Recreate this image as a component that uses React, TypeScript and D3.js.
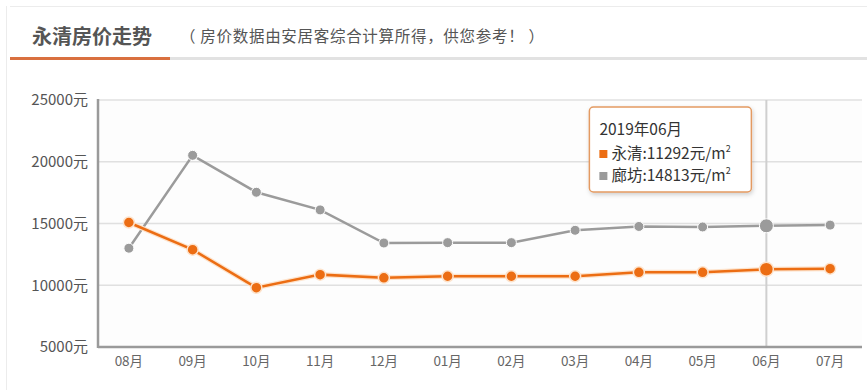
import React from 'react';
import * as d3 from 'd3';

const months = ['08月', '09月', '10月', '11月', '12月', '01月', '02月', '03月', '04月', '05月', '06月', '07月'];
const yongqing = [15080, 12880, 9800, 10860, 10600, 10730, 10730, 10730, 11050, 11050, 11292, 11340];
const langfang = [13000, 20520, 17530, 16100, 13420, 13450, 13450, 14450, 14760, 14720, 14813, 14870];
const yTicks = [5000, 10000, 15000, 20000, 25000];
const activeIndex = 10;
const tooltipTitle = '2019年06月';

const W = 867;
const H = 390;
const ORANGE = '#ec6d13';
const GRAY = '#9b9b9b';
const FONT = '"Noto Sans CJK SC", "Noto Sans", sans-serif';

export default function App() {
  const margin = { left: 98, right: 5, top: 100, bottom: 43 };
  const x = d3.scaleBand<string>().domain(months).range([margin.left - 1, W - margin.right]);
  const y = d3.scaleLinear().domain([5000, 25000]).range([H - margin.bottom, margin.top]);
  const cx = (i: number) => (x(months[i]) || 0) + x.bandwidth() / 2;

  const line = d3.line<number>()
    .x((_, i) => cx(i))
    .y(d => y(d));

  const ax = cx(activeIndex);
  const tipX = ax - 177;
  const tipY = 107;

  return (
    <svg width={W} height={H} style={{ position: 'absolute', left: 0, top: 0, fontFamily: FONT }}>
      <defs>
        <filter id="tipShadow" x="-10%" y="-10%" width="130%" height="140%">
          <feDropShadow dx="1" dy="2" stdDeviation="2" floodColor="#000" floodOpacity="0.18" />
        </filter>
      </defs>
      <rect width={W} height={H} fill="#fff" />
      {/* panel frame */}
      <line x1={10} x2={W} y1={6.5} y2={6.5} stroke="#ececec" />
      <line x1={6.5} x2={6.5} y1={6} y2={H} stroke="#ececec" />

      {/* header */}
      <text x={32} y={44} fontSize={20} fontWeight={700} fill="#555">永清房价走势</text>
      <text x={180} y={42} fontSize={15.5} fill="#555" letterSpacing={0.7}>（ 房价数据由安居客综合计算所得，供您参考！ ）</text>
      <rect x={170} y={57} width={W - 170} height={3} fill="#e2e2e2" />
      <rect x={10} y={57} width={160} height={3} fill="#d9703f" />

      {/* plot background */}
      <rect x={margin.left} y={margin.top} width={W - margin.right - margin.left} height={H - margin.bottom - margin.top} fill="#fdfdfd" />

      {/* grid */}
      {yTicks.map(t => (
        <g key={t}>
          {t > 5000 && (
            <line x1={margin.left} x2={W - margin.right} y1={y(t)} y2={y(t)} stroke="#e0e0e0" strokeWidth={1.5} />
          )}
          <text x={88} y={y(t)} dy="0.35em" textAnchor="end" fontSize={15} fill="#555">{t}元</text>
        </g>
      ))}

      {/* crosshair */}
      <line x1={ax} x2={ax} y1={margin.top} y2={H - margin.bottom} stroke="#cfcfcf" strokeWidth={2} />

      {/* axes */}
      <line x1={margin.left} x2={margin.left} y1={margin.top - 1} y2={H - margin.bottom + 1} stroke="#9a9a9a" strokeWidth={2.5} />
      <line x1={margin.left} x2={W - margin.right} y1={H - margin.bottom} y2={H - margin.bottom} stroke="#9a9a9a" strokeWidth={2.5} />
      {months.map((m, i) => (
        <text key={m} x={cx(i)} y={H - margin.bottom + 19} textAnchor="middle" fontSize={13.5} fill="#666">{m}</text>
      ))}

      {/* series */}
      <path d={line(langfang) || ''} fill="none" stroke={GRAY} strokeWidth={2.5} />
      <path d={line(yongqing) || ''} fill="none" stroke="#fde3cc" strokeWidth={5} />
      <path d={line(yongqing) || ''} fill="none" stroke={ORANGE} strokeWidth={2.5} />
      {langfang.map((v, i) => (
        <circle key={'l' + i} cx={cx(i)} cy={y(v)} r={i === activeIndex ? 7 : 5} fill={GRAY} stroke="#fff" strokeWidth={1} />
      ))}
      {yongqing.map((v, i) => (
        <circle key={'y' + i} cx={cx(i)} cy={y(v)} r={i === activeIndex ? 7 : 5.5} fill={ORANGE} stroke="#fde3cc" strokeWidth={1.5} />
      ))}

      {/* tooltip */}
      <g transform={`translate(${tipX},${tipY})`}>
        <rect width={162} height={85} rx={4} fill="#fff" stroke="#e39a62" strokeWidth={1.5} filter="url(#tipShadow)" />
        <text x={10} y={28} fontSize={15.5} fill="#333">{tooltipTitle}</text>
        <rect x={10} y={43} width={8} height={8} fill={ORANGE} />
        <text x={22} y={52} fontSize={15.5} fill="#333">
          永清:{yongqing[activeIndex]}元/m<tspan fontSize={9} dy={-7}>2</tspan>
        </text>
        <rect x={10} y={65} width={8} height={8} fill={GRAY} />
        <text x={22} y={74} fontSize={15.5} fill="#333">
          廊坊:{langfang[activeIndex]}元/m<tspan fontSize={9} dy={-7}>2</tspan>
        </text>
      </g>
    </svg>
  );
}
